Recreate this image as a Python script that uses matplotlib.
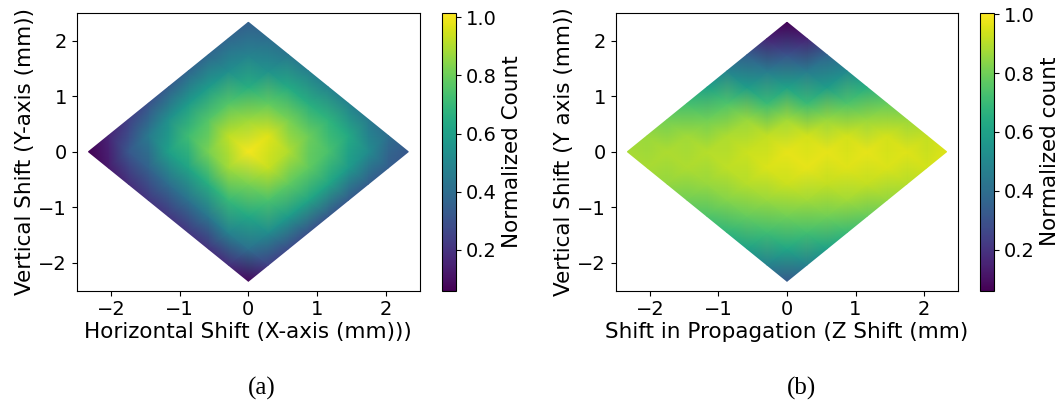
import numpy as np
import matplotlib
matplotlib.use('Agg')
import matplotlib.pyplot as plt
import matplotlib.tri as mtri

# diamond half width (mm) and lattice size
half_width = 2.33
n_side = 9

# normalized counts on a diamond lattice, row j, column i
# (i runs bottom corner -> right corner, j runs bottom corner -> left corner)
counts_xy = [
    [0.08, 0.24, 0.28, 0.30, 0.32, 0.33, 0.34, 0.34, 0.32],
    [0.18, 0.41, 0.52, 0.58, 0.62, 0.62, 0.58, 0.52, 0.40],
    [0.20, 0.48, 0.63, 0.74, 0.78, 0.78, 0.74, 0.64, 0.45],
    [0.21, 0.44, 0.70, 0.82, 0.93, 0.90, 0.80, 0.68, 0.48],
    [0.21, 0.42, 0.66, 0.88, 1.00, 0.97, 0.82, 0.66, 0.48],
    [0.21, 0.40, 0.62, 0.82, 0.92, 0.87, 0.78, 0.64, 0.47],
    [0.18, 0.36, 0.60, 0.72, 0.76, 0.76, 0.66, 0.54, 0.44],
    [0.13, 0.32, 0.45, 0.54, 0.58, 0.58, 0.53, 0.48, 0.40],
    [0.06, 0.16, 0.24, 0.30, 0.34, 0.37, 0.38, 0.38, 0.35],
]

counts_zy = [
    [0.32, 0.47, 0.60, 0.70, 0.78, 0.85, 0.90, 0.94, 0.96],
    [0.47, 0.62, 0.72, 0.80, 0.87, 0.92, 0.95, 0.96, 0.92],
    [0.60, 0.71, 0.80, 0.87, 0.92, 0.96, 0.97, 0.94, 0.86],
    [0.68, 0.78, 0.86, 0.93, 0.97, 0.97, 0.94, 0.86, 0.78],
    [0.74, 0.83, 0.90, 0.95, 0.97, 0.94, 0.86, 0.74, 0.65],
    [0.80, 0.86, 0.91, 0.93, 0.92, 0.87, 0.70, 0.58, 0.50],
    [0.85, 0.89, 0.90, 0.89, 0.86, 0.70, 0.60, 0.45, 0.36],
    [0.88, 0.89, 0.87, 0.80, 0.74, 0.58, 0.45, 0.30, 0.15],
    [0.88, 0.86, 0.80, 0.72, 0.60, 0.48, 0.34, 0.15, 0.06],
]

ticks = [-2, -1, 0, 1, 2]
cbar_ticks = [0.2, 0.4, 0.6, 0.8, 1.0]


def diamond_triangulation():
    step = half_width / (n_side - 1)
    xs, ys = [], []
    for j in range(n_side):
        for i in range(n_side):
            xs.append((i - j) * step)
            ys.append((i + j - (n_side - 1)) * step)
    tris = []
    for j in range(n_side - 1):
        for i in range(n_side - 1):
            a = j * n_side + i
            b = a + 1
            c = a + n_side
            d = c + 1
            tris.append([a, b, d])
            tris.append([a, d, c])
    return mtri.Triangulation(xs, ys, tris)


def draw_panel(ax, cax, values, xlabel, ylabel, clabel, vmax):
    tri = diamond_triangulation()
    z = np.array(values).ravel()
    pc = ax.tripcolor(tri, z, shading='gouraud', cmap='viridis', vmin=0.06, vmax=vmax)
    ax.set_xlim(-2.5, 2.5)
    ax.set_ylim(-2.5, 2.5)
    ax.set_xticks(ticks)
    ax.set_yticks(ticks)
    ax.tick_params(labelsize=14)
    ax.set_xlabel(xlabel, fontsize=15.5, labelpad=2)
    ax.set_ylabel(ylabel, fontsize=15.5, labelpad=2)
    cb = plt.colorbar(pc, cax=cax)
    cb.set_ticks(cbar_ticks)
    cb.ax.tick_params(labelsize=14)
    cb.set_label(clabel, fontsize=15.5)


fig = plt.figure(figsize=(10.63, 4.0), dpi=100)

ax1 = fig.add_axes([0.0722, 0.2733, 0.3229, 0.6947])
cax1 = fig.add_axes([0.4155, 0.2733, 0.0132, 0.6947])
ax2 = fig.add_axes([0.5792, 0.2733, 0.3223, 0.6947])
cax2 = fig.add_axes([0.9219, 0.2733, 0.0135, 0.6947])

draw_panel(ax1, cax1, counts_xy, 'Horizontal Shift (X-axis (mm)))',
           'Vertical Shift (Y-axis (mm))', 'Normalized Count', 1.015)
draw_panel(ax2, cax2, counts_zy, 'Shift in Propagation (Z Shift (mm)',
           'Vertical Shift (Y axis (mm))', 'Normalized count', 1.005)

fig.text(262 / 1063, 1 - 388 / 400, '(a)', ha='center', va='center',
         fontsize=18, family='Liberation Serif')
fig.text(802 / 1063, 1 - 388 / 400, '(b)', ha='center', va='center',
         fontsize=18, family='Liberation Serif')

plt.savefig('out.png', dpi=100)
plt.close()
